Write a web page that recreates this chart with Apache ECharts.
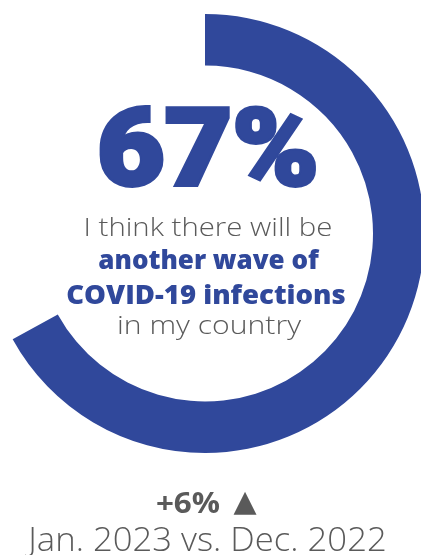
<!DOCTYPE html>
<html>
<head>
<meta charset="utf-8">
<script src="https://cdn.jsdelivr.net/npm/echarts@6/dist/echarts.min.js"></script>
<style>
html,body{margin:0;padding:0;background:#fff;}
#c{width:421px;height:555px;}
</style>
</head>
<body>
<div id="c"></div>
<script>
const categories = ['Yes', 'Rest'];
const shareValues = [67, 33];
const changeValue = 6;
const statementLines = ['I think there will be', 'another wave of', 'COVID-19 infections', 'in my country'];
const comparisonLabel = 'Jan. 2023 vs. Dec. 2022';

const BLUE = '#30489B';
const GRAY = '#5a5a5a';

const chart = echarts.init(document.getElementById('c'), null, {renderer: 'canvas'});
const cx = 205, cy = 233.5;

function txt(text, x, y, font, fill, sx, extra) {
  return {
    type: 'text', x: x, y: y, scaleX: sx || 1,
    style: Object.assign({text: text, font: font, fill: fill, align: 'center', verticalAlign: 'middle'}, extra || {})
  };
}

chart.setOption({
  backgroundColor: '#ffffff',
  animation: false,
  series: [{
    type: 'pie',
    center: [cx, cy],
    radius: [168, 219.5],
    startAngle: 90,
    clockwise: true,
    silent: true,
    label: {show: false},
    labelLine: {show: false},
    data: categories.map((name, i) => ({
      name: name,
      value: shareValues[i],
      itemStyle: {color: i === 0 ? BLUE : 'rgba(0,0,0,0)'}
    }))
  }],
  graphic: [
    txt(shareValues[0] + '%', 208, 158, '900 108px "Roboto", "Liberation Sans", sans-serif', BLUE, 1.08, {stroke: BLUE, lineWidth: 4}),
    txt(statementLines[0], 208, 229, '300 26px "Open Sans", sans-serif', GRAY, 1.13),
    txt(statementLines[1], 208.5, 262, '800 26px "Open Sans", sans-serif', BLUE, 1.0),
    txt(statementLines[2], 206, 297, '800 26px "Open Sans", sans-serif', BLUE, 1.06),
    txt(statementLines[3], 209, 327, '300 26px "Open Sans", sans-serif', GRAY, 1.16),
    txt('+' + changeValue + '%', 188, 505, '700 28px "Open Sans", sans-serif', GRAY, 1.12),
    txt('\u25B2', 245, 503, '400 30px "DejaVu Sans", sans-serif', GRAY, 1.0),
    txt(comparisonLabel, 207.5, 542, '300 33px "Open Sans", sans-serif', GRAY, 1.05)
  ]
});
</script>
</body>
</html>
